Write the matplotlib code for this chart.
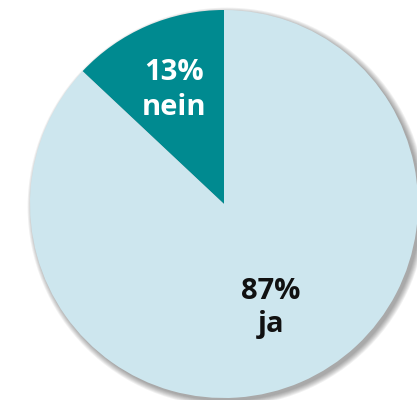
import matplotlib.pyplot as plt
from matplotlib.patches import Circle

# data
labels = ["nein", "ja"]
values = [13, 87]
colors = ["#008a90", "#cde6ee"]
text_colors = ["white", "#111111"]

W, H = 417, 400
cx, cy, r = 224, 196, 194

fig = plt.figure(figsize=(W / 100, H / 100), dpi=100)
ax = fig.add_axes([0, 0, 1, 1])

# soft shadow, shifted right/down
for i in range(7):
    ax.add_patch(Circle((cx + 3, cy - 3), r + i * 0.9, color="black",
                        alpha=0.055, lw=0, zorder=0))

wedges, _ = ax.pie(values, colors=colors, startangle=90, counterclock=True,
                   center=(cx, cy), radius=r,
                   wedgeprops=dict(linewidth=0, zorder=2))

# label positions (baselines of the two lines)
label_pos = [(174, 320, 285), (271, 101, 68)]
for v, lab, tc, (x, y1, y2) in zip(values, labels, text_colors, label_pos):
    ax.text(x, y1, f"{v}%", ha="center", va="baseline", color=tc,
            fontsize=21, fontweight="bold", family="Open Sans", zorder=3)
    ax.text(x, y2, lab, ha="center", va="baseline", color=tc,
            fontsize=21, fontweight="bold", family="Open Sans", zorder=3)

ax.set_xlim(0, W)
ax.set_ylim(0, H)
ax.set_aspect("auto")
ax.axis("off")

fig.savefig("out.png", dpi=100)
